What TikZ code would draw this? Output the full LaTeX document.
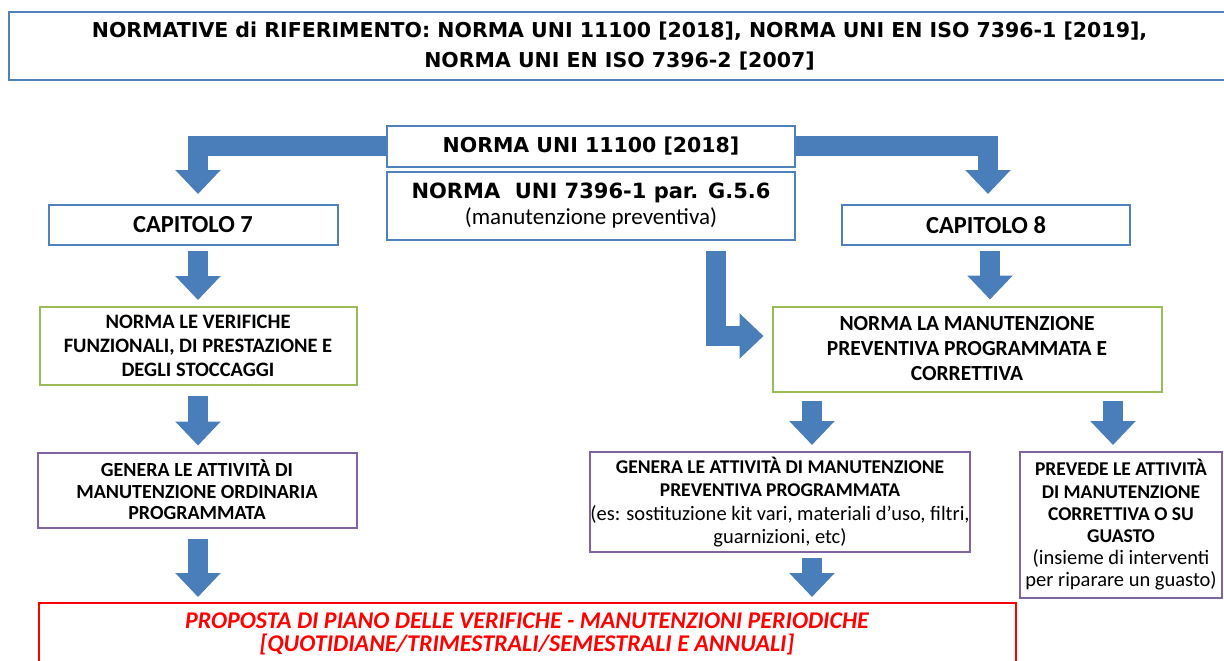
\documentclass[tikz,border=0pt]{standalone}
\usepackage{fontspec}
\setmainfont{Carlito}
\newfontfamily\tahomafont{DejaVu Sans}
\usetikzlibrary{arrows.meta}

\definecolor{boxblue}{HTML}{4F81BD}
\definecolor{arrowblue}{HTML}{4A7EBB}
\definecolor{boxgreen}{HTML}{9BBB59}
\definecolor{boxpurple}{HTML}{8064A2}
\definecolor{boxred}{HTML}{FF0000}

\begin{document}
\begin{tikzpicture}[x=1pt,y=-1pt,
  box/.style={draw,line width=2pt,fill=white,align=center,inner sep=0pt},
  bluebox/.style={box,draw=boxblue},
  greenbox/.style={box,draw=boxgreen},
  purplebox/.style={box,draw=boxpurple},
  redbox/.style={box,draw=boxred,text=boxred},
  blockarrow/.style={draw=arrowblue,line width=20pt,line join=miter,
    -{Triangle[width=44pt,length=24pt]}}]
\useasboundingbox (0,0) rectangle (1224,661);
%\draw[help lines,step=50] (0,0) grid (1224,661);

% boxes
\node[bluebox,minimum width=1221,minimum height=68,
  font=\tahomafont\bfseries\fontsize{20.5}{30}\selectfont] (rif) at (619.5,46)
  {NORMATIVE di RIFERIMENTO: NORMA UNI 11100 [2018], NORMA UNI EN ISO 7396-1 [2019],\\NORMA UNI EN ISO 7396-2 [2007]};
\node[bluebox,minimum width=408,minimum height=41,
  font=\tahomafont\bfseries\fontsize{20.5}{24}\selectfont] (uni) at (591,146)
  {NORMA UNI 11100 [2018]};
\node[bluebox,minimum width=408,minimum height=68,font=\fontsize{23}{26}\selectfont] (par) at (591,206)
  {{\tahomafont\bfseries\fontsize{21}{26}\selectfont NORMA\ \ UNI 7396-1 par. G.5.6}\\(manutenzione preventiva)};
\node[bluebox,minimum width=289,minimum height=40,font=\bfseries\fontsize{24.5}{26}\selectfont] (cap7) at (193,225)
  {CAPITOLO 7};
\node[bluebox,minimum width=288,minimum height=40,font=\bfseries\fontsize{24.5}{26}\selectfont] (cap8) at (986,225)
  {CAPITOLO 8};
\node[greenbox,minimum width=317,minimum height=78,font=\bfseries\fontsize{20.5}{24}\selectfont] (verL) at (198,346)
  {NORMA LE VERIFICHE\\FUNZIONALI, DI PRESTAZIONE E\\DEGLI STOCCAGGI};
\node[greenbox,minimum width=389,minimum height=85,font=\bfseries\fontsize{21.5}{25}\selectfont] (manR) at (967,349)
  {NORMA LA MANUTENZIONE\\PREVENTIVA PROGRAMMATA E\\CORRETTIVA};
\node[purplebox,minimum width=319,minimum height=75,font=\bfseries\fontsize{20}{21.5}\selectfont] (genL) at (197,490)
  {GENERA LE ATTIVITÀ DI\\MANUTENZIONE ORDINARIA\\PROGRAMMATA};
\node[purplebox,minimum width=380,minimum height=100,font=\bfseries\fontsize{19.5}{23.3}\selectfont] (genM) at (780,502)
  {GENERA LE ATTIVITÀ DI MANUTENZIONE\\PREVENTIVA PROGRAMMATA\\
   \mdseries\fontsize{20.5}{23.3}\selectfont (es: sostituzione kit vari, materiali d’uso, filtri,\\\mdseries\fontsize{20.5}{23.3}\selectfont guarnizioni, etc)};
\node[purplebox,minimum width=202,minimum height=146,font=\bfseries\fontsize{19.5}{22.2}\selectfont] (prev) at (1121,525)
  {PREVEDE LE ATTIVITÀ\\DI MANUTENZIONE\\CORRETTIVA O SU\\GUASTO\\
   \mdseries\fontsize{20.5}{22.2}\selectfont (insieme di interventi\\\mdseries\fontsize{20.5}{22.2}\selectfont per riparare un guasto)};
\node[redbox,minimum width=977,minimum height=62,font=\bfseries\itshape\fontsize{24}{23}\selectfont] (piano) at (527,634)
  {PROPOSTA DI PIANO DELLE VERIFICHE - MANUTENZIONI PERIODICHE\\{[}QUOTIDIANE/TRIMESTRALI/SEMESTRALI E ANNUALI{]}};

% arrows
\draw[blockarrow,shorten >=10pt] (uni.west) -| (cap7.north -| verL.north);
\draw[blockarrow,shorten >=10pt] (uni.east) -| ([xshift=2pt]cap8.north);
\draw[blockarrow,shorten <=5pt,shorten >=6pt] (cap7.south -| verL.north) -- (verL.north);
\draw[blockarrow,shorten <=5pt,shorten >=6pt] ([xshift=4pt]cap8.south) -- ([xshift=4pt]cap8.south |- manR.north);
\draw[blockarrow,shorten <=10pt,shorten >=6pt] (verL.south) -- (verL.south |- genL.north);
\draw[blockarrow,shorten <=10pt,shorten >=5pt] (genL.south -| verL.south) -- (verL.south |- piano.north);
\draw[blockarrow,shorten <=8pt,shorten >=6pt] ([xshift=32pt]genM.north |- manR.south) -- ([xshift=32pt]genM.north);
\draw[blockarrow,shorten <=8pt,shorten >=6pt] ([xshift=-8pt]prev.north |- manR.south) -- ([xshift=-8pt]prev.north);
\draw[blockarrow,shorten <=5pt,shorten >=5pt] ([xshift=32pt]genM.south) -- ([xshift=32pt]genM.south |- piano.north);
\draw[blockarrow,shorten <=10pt,shorten >=8pt] ([xshift=125pt]par.south) |- ([yshift=13pt]manR.west);
\end{tikzpicture}
\end{document}
